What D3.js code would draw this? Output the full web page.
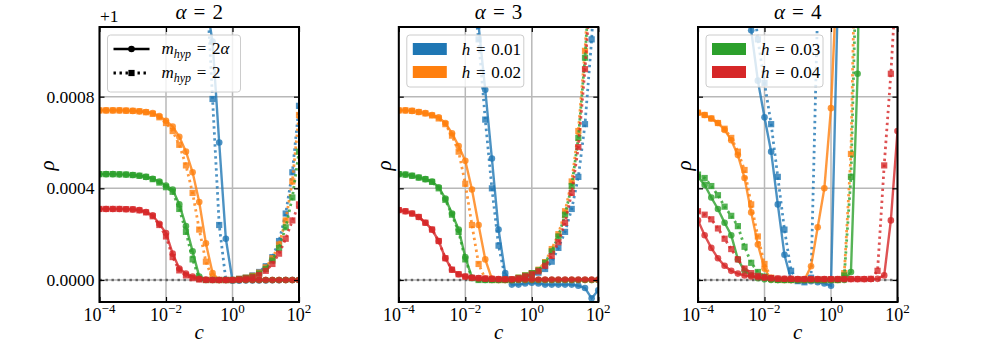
<!DOCTYPE html>
<html>
<head>
<meta charset="utf-8">
<script src="https://cdn.jsdelivr.net/npm/d3@7"></script>
<style>
body { margin: 0; background: #fff; }
svg text { font-family: "Liberation Serif", "Times New Roman", serif; fill: #000; }
</style>
</head>
<body>
<div id="chart"></div>
<script>
// log10(c) sample points
const logC = [-4.0,-3.8,-3.6,-3.4,-3.2,-3.0,-2.8,-2.6,-2.4,-2.2,-2.0,-1.8,-1.6,-1.4,-1.2,-1.0,
              -0.8,-0.6,-0.4,-0.2,0.0,0.2,0.4,0.6,0.8,1.0,1.2,1.4,1.6,1.8,2.0];
const alphaValues = [2, 3, 4];
const hLabels = ['0.01', '0.02', '0.03', '0.04'];
const colors = ['#1f77b4', '#ff7f0e', '#2ca02c', '#d62728'];
const xTickExps = [-4, -2, 0, 2];
const yTicks = [0, 4, 8];          // rho - 1, in units of 1e-4
const yTickLabels = ['0.0000', '0.0004', '0.0008'];

// rho - 1 (x 1e-4). "Full" = m_hyp = 2*alpha (solid, circles), "M2" = m_hyp = 2 (dotted, squares)
// alpha = 2
const a2FullH1 = [15.0,15.0,15.0,15.0,14.9,14.9,14.8,14.7,14.6,14.4,14.2,13.9,13.5,13.2,13.0,12.7,12.2,10.4,6.0,1.8,-0.03,-0.03,-0.02,-0.02,-0.02,-0.02,-0.01,-0.01,0,0,0];
const a2M2H1   = [15.0,15.0,15.0,15.0,14.9,14.9,14.8,14.7,14.6,14.5,14.4,14.3,14.1,13.9,13.7,13.6,13.5,7.9,2.4,0,0,0.05,0.10,0.20,0.35,0.60,1.00,1.70,2.90,4.70,7.60];
const a2FullH2 = [7.40,7.40,7.40,7.40,7.39,7.38,7.36,7.33,7.28,7.15,6.95,6.70,6.25,5.60,4.70,3.40,1.60,0.30,0,0,0,0,0,0,0,0,0,0,0,0,0];
const a2M2H2   = [7.40,7.40,7.40,7.40,7.39,7.38,7.36,7.32,7.25,7.10,6.85,6.50,5.90,5.00,3.80,2.20,0.80,0.05,0,0,0,0.05,0.10,0.18,0.32,0.55,0.95,1.55,2.60,4.30,7.20];
const a2FullH3 = [4.62,4.62,4.62,4.61,4.60,4.58,4.55,4.50,4.42,4.30,4.12,3.95,3.30,2.35,1.25,0.15,0,0,0,0,0,0,0,0,0,0,0,0,0,0,0];
const a2M2H3   = [4.62,4.62,4.62,4.61,4.60,4.58,4.55,4.50,4.40,4.25,4.05,3.85,3.10,2.10,0.90,0.05,0,0,0,0,0,0.04,0.09,0.15,0.28,0.48,0.85,1.40,2.30,3.60,5.60];
const a2FullH4 = [3.10,3.10,3.10,3.10,3.09,3.08,3.05,2.97,2.82,2.45,2.05,1.15,0.50,0.28,0.15,0.05,0.02,0,0,0,0,0,0,0,0,0,0,0,0,0,0];
const a2M2H4   = [3.10,3.10,3.10,3.10,3.09,3.08,3.04,2.95,2.78,2.40,1.90,1.00,0.42,0.20,0.08,0.02,0,0,0,0,0,0.03,0.07,0.12,0.22,0.40,0.70,1.15,1.80,2.60,3.30];
// alpha = 3
const a3FullH1 = [15.0,15.0,15.0,15.0,15.0,14.9,14.9,14.8,14.6,14.4,14.0,13.5,11.1,8.3,5.3,2.2,0.3,-0.20,-0.20,-0.15,-0.12,-0.15,-0.20,-0.20,-0.20,-0.20,-0.20,-0.25,-0.35,-0.80,-0.45];
const a3M2H1   = [15.0,15.0,15.0,15.0,15.0,14.9,14.9,14.8,14.6,14.4,14.0,13.0,10.5,7.0,4.0,1.5,0.1,0,0.05,0.12,0.22,0.32,0.48,0.80,1.40,2.10,3.10,4.50,6.80,10.5,16.0];
const a3FullH2 = [7.40,7.40,7.38,7.33,7.28,7.20,7.10,6.85,6.40,5.85,5.20,3.95,2.40,0.90,0.05,0,0,0,0,0,0,0,0,0,0,0,0,0,0,0,0];
const a3M2H2   = [7.40,7.40,7.38,7.33,7.27,7.18,7.05,6.80,6.30,5.60,4.20,2.40,0.70,0.05,0,0,0,0,0.10,0.20,0.30,0.45,0.78,1.35,2.00,3.00,4.30,6.50,10.0,15.0,22.0];
const a3FullH3 = [4.62,4.60,4.55,4.47,4.40,4.30,4.05,3.55,2.90,2.20,1.00,0.10,0.02,0,0,0,0,0,0,0,0,0,0,0,0,0,0,0,0,0,0];
const a3M2H3   = [4.62,4.60,4.55,4.47,4.40,4.28,4.00,3.50,2.85,2.10,0.90,0.08,0,0,0,0,0,0,0.10,0.20,0.30,0.42,0.75,1.25,1.90,2.85,4.10,6.20,9.70,14.5,21.0];
const a3FullH4 = [3.05,3.00,2.90,2.75,2.50,2.20,1.70,0.95,0.45,0.25,0.15,0.10,0.08,0.06,0.05,0.04,0.03,0.02,0.02,0.02,0.02,0.02,0.02,0.02,0.02,0.02,0.02,0.02,0.02,0.02,0.02];
const a3M2H4   = [3.05,3.00,2.90,2.75,2.50,2.20,1.70,0.95,0.45,0.25,0.15,0.10,0.08,0.06,0.05,0.04,0.03,0.04,0.08,0.16,0.25,0.38,0.62,1.05,1.65,2.50,3.80,5.80,9.20,13.5,20.0];
// alpha = 4
const a4FullH1 = [20,20,20,19.5,19,18.5,17.5,13.5,10.9,8.7,7.1,5.6,3.3,1.1,0,-0.03,-0.05,-0.05,-0.10,-0.15,-0.25,12,30,30,30,30,30,30,30,30,30];
const a4M2H1   = [20,20,20,19.5,19,18.5,17.5,15.0,13.0,10.5,8.6,6.8,4.5,2.2,0.4,-0.05,-0.10,0.10,12,30,30,30,30,30,30,30,30,30,30,30,30];
const a4FullH2 = [7.30,7.20,7.05,6.85,6.55,6.10,5.45,4.45,2.95,1.55,0.50,0.02,0,0,0,0,0,0.60,2.30,4.00,7.50,14.0,30,30,30,30,30,30,30,30,30];
const a4M2H2   = [7.30,7.20,7.05,6.85,6.60,6.20,5.60,4.80,3.30,1.90,0.70,0.10,0.01,0,0,0,0,0,0,0,0,0,0.30,5.50,20.0,30,30,30,30,30,30];
const a4FullH3 = [4.50,4.15,3.60,3.10,2.50,1.95,0.90,0.40,0.20,0.08,0.03,0,0,0,0,0,0,0,0,0,0,0,0,0.35,9.0,30,30,30,30,30,30];
const a4M2H3   = [4.60,4.45,4.10,3.70,3.20,2.80,2.35,1.45,0.75,0.35,0.15,0.05,0,0,0,0,0,0,0,0,0,0,0.20,4.50,16.0,30,30,30,30,30,30];
const a4FullH4 = [2.60,1.95,1.40,0.95,0.62,0.40,0.28,0.20,0.15,0.12,0.10,0.08,0.06,0.05,0.05,0.04,0.04,0.04,0.04,0.04,0.04,0.04,0.04,0.04,0.04,0.04,0.04,0.05,0.20,2.60,6.50];
const a4M2H4   = [3.00,2.85,2.65,2.25,1.80,1.35,0.90,0.50,0.30,0.18,0.12,0.08,0.06,0.05,0.05,0.04,0.04,0.04,0.04,0.04,0.04,0.04,0.04,0.04,0.04,0.04,0.05,0.40,5.00,9.00,14.0];

const panels = [
    {alpha: 2, full: [a2FullH1, a2FullH2, a2FullH3, a2FullH4], m2: [a2M2H1, a2M2H2, a2M2H3, a2M2H4]},
    {alpha: 3, full: [a3FullH1, a3FullH2, a3FullH3, a3FullH4], m2: [a3M2H1, a3M2H2, a3M2H3, a3M2H4]},
    {alpha: 4, full: [a4FullH1, a4FullH2, a4FullH3, a4FullH4], m2: [a4M2H1, a4M2H2, a4M2H3, a4M2H4]},
];

// layout
const width = 997;
const height = 349;
const marginTop = 27;
const panelLeft = [99.5, 398.8, 698];
const pw = 199.5;
const ph = 275;
const yLabelOffset = [-51.5, -14, -13];

const svg = d3.select('#chart').append('svg').attr('width', width).attr('height', height)
    .attr('font-family', '"Liberation Serif", serif');
svg.append('rect').attr('width', width).attr('height', height).attr('fill', '#fff');

const x = d3.scaleLog().domain([1e-4, 1e2]).range([0, pw]);
const y = d3.scaleLinear().domain([-0.96, 11.04]).range([ph, 0]);
const xTicks = xTickExps.map(e => Math.pow(10, e));

const lineGen = d3.line().x(d => x(d.c)).y(d => y(d.v));

function drawSeries(g, values, color, dotted) {
    const pts = values.map((v, i) => ({c: Math.pow(10, logC[i]), v: v}));
    g.append('path').datum(pts)
        .attr('d', lineGen)
        .attr('fill', 'none')
        .attr('stroke', color)
        .attr('stroke-opacity', 0.8)
        .attr('stroke-width', dotted ? 2.8 : 2.4)
        .attr('stroke-dasharray', dotted ? '2.4,3.6' : null);
    if (dotted) {
        g.selectAll(null).data(pts).join('rect')
            .attr('x', d => x(d.c) - 3.1).attr('y', d => y(d.v) - 3.1)
            .attr('width', 6.2).attr('height', 6.2)
            .attr('fill', color).attr('fill-opacity', 0.8);
    } else {
        g.selectAll(null).data(pts).join('circle')
            .attr('cx', d => x(d.c)).attr('cy', d => y(d.v))
            .attr('r', 3.3)
            .attr('fill', color).attr('fill-opacity', 0.8);
    }
}

function mathEq(t, parts) {
    parts.forEach(p => {
        const s = t.append('tspan').text(p.t);
        if (p.it) s.attr('font-style', 'italic');
        if (p.size) s.attr('font-size', p.size);
        if (p.dy) s.attr('dy', p.dy);
    });
}

panels.forEach((panel, p) => {
    const g = svg.append('g').attr('transform', `translate(${panelLeft[p]},${marginTop})`);

    svg.append('clipPath').attr('id', `clip${p}`)
        .append('rect').attr('width', pw).attr('height', ph);

    // grid
    g.selectAll('.gx').data(xTicks).join('line').attr('class', 'gx')
        .attr('x1', d => x(d)).attr('x2', d => x(d)).attr('y1', 0).attr('y2', ph)
        .attr('stroke', '#b8b8b8').attr('stroke-width', 1.5);
    g.selectAll('.gy').data(yTicks).join('line').attr('class', 'gy')
        .attr('x1', 0).attr('x2', pw).attr('y1', d => y(d)).attr('y2', d => y(d))
        .attr('stroke', '#b8b8b8').attr('stroke-width', 1.5);

    const plot = g.append('g').attr('clip-path', `url(#clip${p})`);

    // reference line rho = 1
    plot.append('line')
        .attr('x1', 0).attr('x2', pw).attr('y1', y(0)).attr('y2', y(0))
        .attr('stroke', '#000').attr('stroke-opacity', 0.5)
        .attr('stroke-width', 2.6).attr('stroke-dasharray', '2.4,3.6');

    colors.forEach((col, k) => {
        drawSeries(plot, panel.full[k], col, false);
        drawSeries(plot, panel.m2[k], col, true);
    });

    // inward ticks on all four sides
    const axes = [
        g.append('g').attr('transform', `translate(0,${ph})`).call(d3.axisBottom(x).tickValues(xTicks).tickSize(-5).tickFormat(() => '')),
        g.append('g').call(d3.axisTop(x).tickValues(xTicks).tickSize(-5).tickFormat(() => '')),
        g.append('g').call(d3.axisLeft(y).tickValues(yTicks).tickSize(-5).tickFormat(() => '')),
        g.append('g').attr('transform', `translate(${pw},0)`).call(d3.axisRight(y).tickValues(yTicks).tickSize(-5).tickFormat(() => '')),
    ];
    axes.forEach(a => {
        a.select('.domain').remove();
        a.selectAll('line').attr('stroke', '#000').attr('stroke-width', 1.2);
    });

    g.append('rect').attr('width', pw).attr('height', ph)
        .attr('fill', 'none').attr('stroke', '#000').attr('stroke-width', 2);

    // x tick labels
    xTickExps.forEach(e => {
        const t = g.append('text').attr('x', x(Math.pow(10, e))).attr('y', ph + 19)
            .attr('text-anchor', 'middle').attr('font-size', 18);
        t.append('tspan').text('10');
        t.append('tspan').attr('dy', -8).attr('font-size', 13).text(e < 0 ? '\u2212' + (-e) : String(e));
    });

    // y tick labels (first panel only)
    if (p === 0) {
        g.selectAll('.ytl').data(yTicks).join('text').attr('class', 'ytl')
            .attr('x', -5).attr('y', d => y(d)).attr('dy', '0.35em')
            .attr('text-anchor', 'end').attr('font-size', 17.5)
            .text((d, i) => yTickLabels[i]);
        g.append('text').attr('x', 0.5).attr('y', -5).attr('font-size', 17.5).text('+1');
    }

    // title
    const title = g.append('text').attr('x', pw / 2).attr('y', -8)
        .attr('text-anchor', 'middle').attr('font-size', 21);
    mathEq(title, [{t: '\u03b1', it: true}, {t: '\u2004=\u2004'}, {t: String(panel.alpha)}]);

    // axis labels
    g.append('text').attr('x', pw / 2).attr('y', ph + 37)
        .attr('text-anchor', 'middle').attr('font-size', 21).attr('font-style', 'italic').text('c');
    g.append('text')
        .attr('transform', `translate(${yLabelOffset[p]},${ph / 2 + 1}) rotate(-90)`)
        .attr('text-anchor', 'middle').attr('dy', '0.3em')
        .attr('font-size', 21).attr('font-style', 'italic').text('\u03c1');

    // legends
    const lg = g.append('g').attr('transform', 'translate(8,8)');
    if (p === 0) {
        lg.append('rect').attr('width', 133).attr('height', 57).attr('rx', 3)
            .attr('fill', '#fff').attr('fill-opacity', 0.8).attr('stroke', '#ccc');
        [0, 1].forEach(j => {
            const yy = 14 + j * 24;
            lg.append('line').attr('x1', 6).attr('x2', 42).attr('y1', yy).attr('y2', yy)
                .attr('stroke', '#000').attr('stroke-width', j ? 2.8 : 2.4)
                .attr('stroke-dasharray', j ? '2.4,3.6' : null);
            if (j) {
                lg.append('rect').attr('x', 20.9).attr('y', yy - 3.1).attr('width', 6.2).attr('height', 6.2).attr('fill', '#000');
            } else {
                lg.append('circle').attr('cx', 24).attr('cy', yy).attr('r', 3.3).attr('fill', '#000');
            }
            const t = lg.append('text').attr('x', 54).attr('y', yy + 5).attr('font-size', 17);
            mathEq(t, [{t: 'm', it: true}, {t: 'hyp', it: true, size: 12, dy: 4},
                       {t: '\u2004=\u2004', dy: -4}, {t: '2'}]);
            if (!j) t.append('tspan').attr('font-style', 'italic').text('\u03b1');
        });
    } else {
        const idx = p === 1 ? [0, 1] : [2, 3];
        lg.append('rect').attr('width', 117).attr('height', 52).attr('rx', 3)
            .attr('fill', '#fff').attr('fill-opacity', 0.8).attr('stroke', '#ccc');
        idx.forEach((k, j) => {
            const yy = 8 + j * 23;
            lg.append('rect').attr('x', 6).attr('y', yy).attr('width', 34).attr('height', 12)
                .attr('fill', colors[k]);
            const t = lg.append('text').attr('x', 55).attr('y', yy + 12).attr('font-size', 17);
            mathEq(t, [{t: 'h', it: true}, {t: '\u2004=\u2004'}, {t: hLabels[k]}]);
        });
    }
});
</script>
</body>
</html>
